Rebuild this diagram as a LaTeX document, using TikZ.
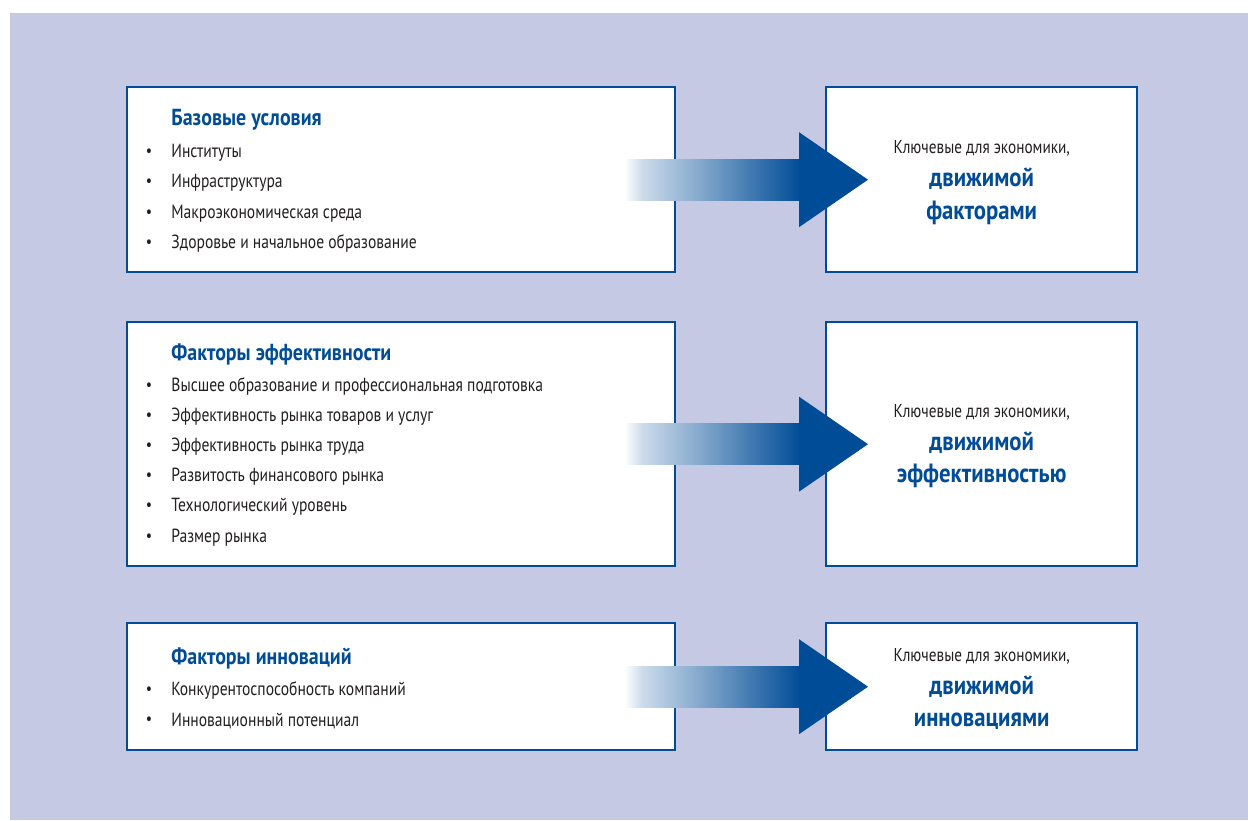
\documentclass[tikz,border=0pt]{standalone}
\usepackage{fontspec}
\setmainfont{PT Sans}[FakeStretch=0.82, BoldFeatures={FakeStretch=0.86}]
\usetikzlibrary{positioning,calc}
\definecolor{bglav}{HTML}{C5C9E3}
\definecolor{wefblue}{HTML}{004C97}
\definecolor{itemgray}{HTML}{231F20}
\pgfdeclarehorizontalshading{shaftfade}{100bp}{color(0bp)=(white); color(25bp)=(white); color(30bp)=(wefblue!20); color(50bp)=(wefblue!55); color(75bp)=(wefblue); color(100bp)=(wefblue)}
% thick gradient arrow from a factor box to its result box
\newcommand{\stagearrow}[2]{%
  \shade[shading=shaftfade]
    ($(#1.east)+(-52,-20.5)$) rectangle ($(#2.west)+(-24,20.5)$);
  \fill[wefblue] ($(#2.west)+(-26,-47.5)$) -- ($(#2.west)+(43,0)$)
    -- ($(#2.west)+(-26,47.5)$) -- cycle;
}

\begin{document}
\begin{tikzpicture}[x=0.5pt, y=-0.5pt,
        box/.style={draw=wefblue, line width=1.2pt, fill=white, inner sep=0pt, anchor=north west, minimum width=274pt},
        resbox/.style={box, minimum width=155.5pt},
        heading/.style={anchor=west, inner sep=0pt, text=wefblue, font=\fontsize{11.6}{13}\selectfont\bfseries},
        item/.style={anchor=west, inner sep=0pt, text=itemgray, font=\fontsize{9.5}{11}\selectfont},
        dot/.style={item, anchor=center, font=\fontsize{8.5}{10}\selectfont},
        result/.style={align=center, text=itemgray, font=\fontsize{13.2}{16.3}\selectfont}
    ]
        \useasboundingbox (0,0) rectangle (1248,820);
        \fill[bglav] (10,13) rectangle (1248,820);

        % Factor boxes
        \node[box, minimum height=92.5pt] (base) at (126,86) {};
        \node[box, minimum height=122pt] (eff) at (126,321) {};
        \node[box, minimum height=63.5pt] (inno) at (126,622) {};

        % Result boxes
        \node[resbox, minimum height=92.5pt] (baseRes) at (825,86) {};
        \node[resbox, minimum height=122pt] (effRes) at (825,321) {};
        \node[resbox, minimum height=63.5pt] (innoRes) at (825,622) {};

        % Box contents
        \node[heading] (baseHead) at ($(base.north west)+(45,34)$) {Базовые условия};
        \foreach \txt [count=\i] in {Институты, Инфраструктура, Макроэкономическая среда, Здоровье и начальное образование} {
            \node[dot] at ($(base.north west)+(23,36+30.5*\i)$) {•};
            \node[item] (base-\i) at ($(base.north west)+(45,36+30.5*\i)$) {\txt};
        }

        \node[heading] (effHead) at ($(eff.north west)+(45,33)$) {Факторы эффективности};
        \foreach \txt [count=\i] in {Высшее образование и профессиональная подготовка, Эффективность рынка товаров и услуг, Эффективность рынка труда, Развитость финансового рынка, Технологический уровень, Размер рынка} {
            \node[dot] at ($(eff.north west)+(23,35+30.2*\i)$) {•};
            \node[item] (eff-\i) at ($(eff.north west)+(45,35+30.2*\i)$) {\txt};
        }

        \node[heading] (innoHead) at ($(inno.north west)+(45,36)$) {Факторы инноваций};
        \foreach \txt [count=\i] in {Конкурентоспособность компаний, Инновационный потенциал} {
            \node[dot] at ($(inno.north west)+(23,38+30.5*\i)$) {•};
            \node[item] (inno-\i) at ($(inno.north west)+(45,38+30.5*\i)$) {\txt};
        }

        \node[result] (baseTxt) at ($(baseRes.center)+(0,3)$) {{\fontsize{9.3}{10}\selectfont Ключевые для экономики,}\\ \textcolor{wefblue}{\bfseries движимой}\\ \textcolor{wefblue}{\bfseries факторами}};
        \node[result] (effTxt) at ($(effRes.center)+(0,2)$) {{\fontsize{9.3}{10}\selectfont Ключевые для экономики,}\\ \textcolor{wefblue}{\bfseries движимой}\\ \textcolor{wefblue}{\bfseries эффективностью}};
        \node[result] (innoTxt) at ($(innoRes.center)+(0,2.5)$) {{\fontsize{9.3}{10}\selectfont Ключевые для экономики,}\\ \textcolor{wefblue}{\bfseries движимой}\\ \textcolor{wefblue}{\bfseries инновациями}};

        % Arrows
        \stagearrow{base}{baseRes}
        \stagearrow{eff}{effRes}
        \stagearrow{inno}{innoRes}
    \end{tikzpicture}
\end{document}
